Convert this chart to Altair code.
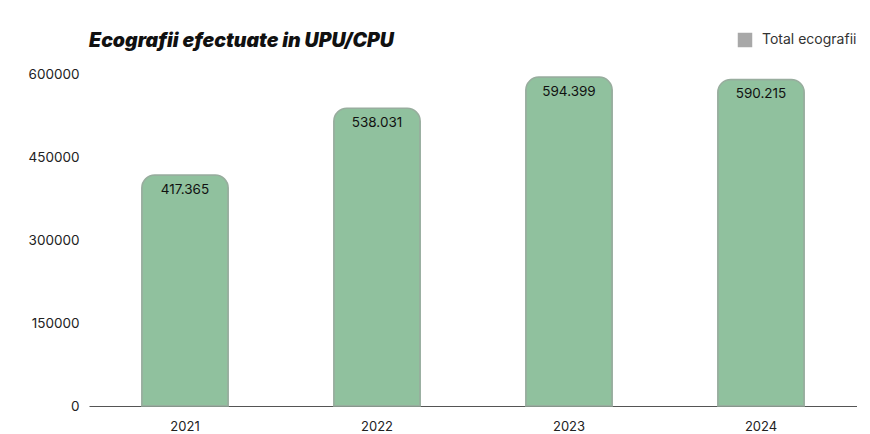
import altair as alt
import pandas as pd

years = ["2021", "2022", "2023", "2024"]
values = [417365, 538031, 594399, 590215]
labels = ["417.365", "538.031", "594.399", "590.215"]
series = ["Total ecografii"] * 4
y_ticks = [0, 150000, 300000, 450000, 600000]

df = pd.DataFrame({"year": years, "value": values, "label": labels, "series": series})

FONT = "Inter"

x = alt.X("year:N", title=None,
          scale=alt.Scale(paddingInner=0.55, paddingOuter=0.275),
          axis=alt.Axis(labelAngle=0, ticks=False, domain=True, domainColor="#555555",
                        labelFontSize=13, labelColor="#222222", labelPadding=14, labelFont=FONT))
y = alt.Y("value:Q", title=None,
          scale=alt.Scale(domain=[0, 600000], nice=False),
          axis=alt.Axis(values=y_ticks, grid=False, domain=False, ticks=False,
                        labelFontSize=13.5, labelColor="#222222", labelPadding=10, labelFont=FONT,
                        format="d"))

bars = alt.Chart(df).mark_bar(
    cornerRadiusTopLeft=13, cornerRadiusTopRight=13,
    stroke="#98ad9e", strokeWidth=1.5, color="#90c19e"
).encode(x=x, y=y)

legend_layer = alt.Chart(df).mark_point(
    filled=True, color="#a8a8a8", size=0, opacity=1
).encode(
    x=x, y=y,
    shape=alt.Shape("series:N", title=None,
                    scale=alt.Scale(range=["square"]),
                    legend=alt.Legend(orient="none", legendX=648, legendY=-42,
                                      symbolSize=210,
                                      symbolFillColor="#a8a8a8", symbolStrokeColor="#8a8a8a",
                                      symbolStrokeWidth=1,
                                      labelFontSize=14, labelColor="#333333", labelFont=FONT,
                                      labelOffset=9)),
)

text = alt.Chart(df).mark_text(
    baseline="top", dy=8, fontSize=13.5, color="#111111", font=FONT
).encode(x=x, y=y, text="label:N")

chart = alt.layer(bars, legend_layer, text).properties(
    width=768, height=332,
    padding={"left": 20, "top": 22, "right": 0, "bottom": 0},
    title=alt.TitleParams("Ecografii efectuate in UPU/CPU", anchor="start", frame="group",
                          fontSize=19.5, fontWeight=900, fontStyle="italic", font=FONT,
                          color="#111111", offset=-19),
).configure_view(stroke=None)

chart.save("out.html", embed_options={"renderer": "svg", "actions": False})
